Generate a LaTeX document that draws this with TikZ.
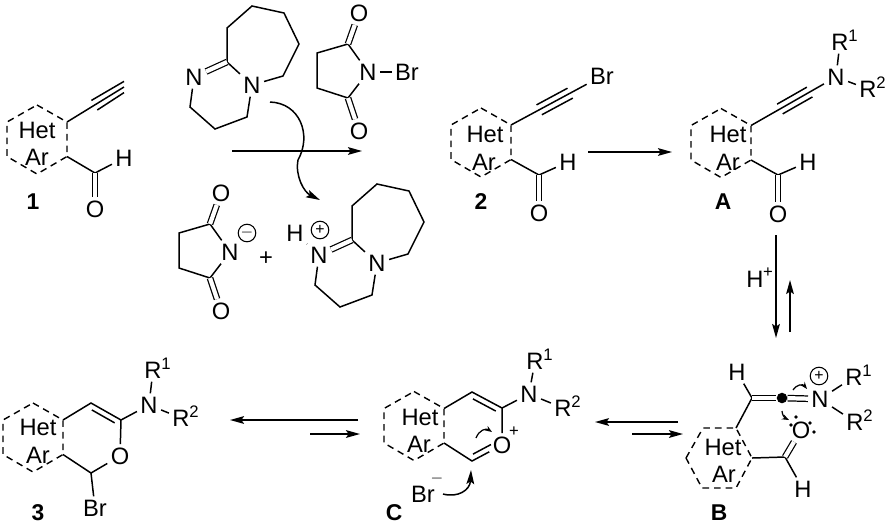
\documentclass[tikz,border=0pt]{standalone}
\usepackage{fontspec}
\setmainfont{Liberation Sans}
\usetikzlibrary{arrows.meta,calc}
\newcommand{\sidebond}[5]{\draw[bond] ($(#1)!#3!(#2)!#5!90:(#2)$) -- ($(#1)!#4!(#2)!#5!90:(#2)$);}

\begin{document}
\begin{tikzpicture}[>={Stealth[length=8pt,width=4.4pt,inset=1.5pt]},x=0.02cm,y=-0.02cm,
  atom/.style={font=\fontsize{13.5}{15}\selectfont,inner sep=1.8pt},
  name node/.style={font=\fontsize{13}{15}\selectfont\bfseries,inner sep=0pt},
  sup node/.style={font=\fontsize{9.5}{10}\selectfont,inner sep=0pt},
  chg node/.style={circle,draw,line width=0.6pt,minimum size=10pt,inner sep=0pt,font=\fontsize{9}{9}\selectfont},
  lp node/.style={circle,fill,inner sep=0pt,minimum size=2.2pt},
  bond/.style={line width=0.85pt},
  dbl/.style={line width=0.7pt,double,double distance=2.4pt},
  dash bond/.style={line width=0.8pt,dash pattern=on 3.8pt off 2.8pt},
  arw/.style={line width=0.85pt,->},
  curly/.style={line width=0.7pt,-{Stealth[length=4pt,width=3pt]}},
  hexring/.pic={
    \coordinate (-a) at (0,-34.5);
    \coordinate (-b) at (30,-17.5);
    \coordinate (-c) at (30,17);
    \coordinate (-d) at (0,34.5);
    \coordinate (-e) at (-30,17);
    \coordinate (-f) at (-30,-17.5);
    \draw[dash bond] (-a) -- (-b) -- (-c) -- (-d) -- (-e) -- (-f) -- cycle;
  },
  dbu/.pic={
    \coordinate (-c1) at (0,0);
    \coordinate (-c2) at (0,-34);
    \coordinate (-c3) at (25,-56);
    \coordinate (-c4) at (57,-49);
    \coordinate (-c5) at (72,-18);
    \coordinate (-c6) at (56,14);
    \coordinate (-c7) at (-37,45);
    \coordinate (-c8) at (-12,67);
    \coordinate (-c9) at (20,55);
    \node[atom] (-n1) at (25,23) {N};
    \node[atom] (-n2) at (-33,15) {N};
    \draw[bond] (-n1) -- (-c1) -- (-c2) -- (-c3) -- (-c4) -- (-c5) -- (-c6) -- (-n1);
    \draw[bond] (-n1) -- (-c9) -- (-c8) -- (-c7) -- (-n2);
    \draw[dbl] (-n2) -- (-c1);
  },
  succ/.pic={
    \node[atom] (-n) at (0,0) {N};
    \coordinate (-c1) at (-20,-28);
    \coordinate (-c2) at (-51,-19);
    \coordinate (-c3) at (-51,16);
    \coordinate (-c4) at (-20,26);
    \node[atom] (-o1) at (-9,-59) {O};
    \node[atom] (-o2) at (-9,59) {O};
    \draw[bond] (-n) -- (-c1) -- (-c2) -- (-c3) -- (-c4) -- (-n);
    \draw[dbl] (-c1) -- (-o1);
    \draw[dbl] (-c4) -- (-o2);
  }]
  \useasboundingbox (0,0) rectangle (888,525);

  % compound 1
  \pic (r1) at (37,139.5) {hexring};
  \node[atom] (het1) at (37,130) {Het};
  \node[atom] (ar1) at (37,157) {Ar};
  \coordinate (y1) at (124,87);
  \coordinate (cho1) at (95,173);
  \node[atom] (h1) at (124,158) {H};
  \node[atom] (o1) at (95,209) {O};
  \node[name node] (lab1) at (33,202) {1};
  \draw[bond] (r1-b) -- (y1);
  \sidebond{r1-b}{y1}{0.48}{1}{3.2pt}
  \sidebond{r1-b}{y1}{0.48}{1}{-3.2pt}
  \draw[bond] (r1-c) -- (cho1) -- (h1);
  \draw[dbl] (cho1) -- (o1);

  % reagents
  \pic (dbu1) at (227,62) {dbu};
  \pic (nbs) at (368,72) {succ};
  \node[atom] (br0) at (407,72) {Br};
  \draw[bond] (nbs-n) -- (br0);
  \pic (succ2) at (230,252) {succ};
  \node[chg node] (minus) at (247,233) {$-$};
  \node[atom] (plus) at (266,259) {+};
  \pic (dbu2) at (352,240) {dbu};
  \node[atom] (h0) at (295,233) {H};
  \node[chg node] (nplus) at (320,230) {+};
  \draw[bond] (h0) -- (dbu2-n2);

  % step 1
  \coordinate (aw1) at (232,151);
  \coordinate (aw2) at (362,151);
  \draw[arw] (aw1) -- (aw2);
  \coordinate (cv1) at (270,102);
  \coordinate (cv2) at (320,200);
  \draw[arw] (cv1) .. controls (300,103) and (312,135) .. (298,160)
    .. controls (295,176) and (304,192) .. (cv2);

  % compound 2
  \pic (r2) at (481,142.5) {hexring};
  \node[atom] (het2) at (485,134) {Het};
  \node[atom] (ar2) at (484,162) {Ar};
  \node[atom] (br2) at (602,76) {Br};
  \coordinate (cho2) at (539,175);
  \node[atom] (h2) at (568,162) {H};
  \node[atom] (o2) at (539,213) {O};
  \node[name node] (lab2) at (481,202) {2};
  \draw[bond] (r2-b) -- (br2);
  \sidebond{r2-b}{br2}{0.31}{0.65}{3.2pt}
  \sidebond{r2-b}{br2}{0.31}{0.65}{-3.2pt}
  \draw[bond] (r2-c) -- (cho2) -- (h2);
  \draw[dbl] (cho2) -- (o2);

  \coordinate (aw3) at (588,152);
  \coordinate (aw4) at (672,152);
  \draw[arw] (aw3) -- (aw4);

  % intermediate A
  \pic (ra) at (721,143) {hexring};
  \node[atom] (heta) at (728,134) {Het};
  \node[atom] (ara) at (728,162) {Ar};
  \node[atom] (na) at (836,77) {N};
  \node[atom] (r1a) at (840,42) {R};
  \node[sup node] (r1as) at (853,36) {1};
  \node[atom] (r2a) at (868,89) {R};
  \node[sup node] (r2as) at (881,83) {2};
  \coordinate (choa) at (778,175);
  \node[atom] (ha) at (808,162) {H};
  \node[atom] (oa) at (778,214) {O};
  \node[name node] (laba) at (723,202) {A};
  \draw[bond] (ra-b) -- (na);
  \sidebond{ra-b}{na}{0.34}{0.69}{3.2pt}
  \sidebond{ra-b}{na}{0.34}{0.69}{-3.2pt}
  \draw[bond] (na) -- (r1a);
  \draw[bond] (na) -- (r2a);
  \draw[bond] (ra-c) -- (choa) -- (ha);
  \draw[dbl] (choa) -- (oa);

  \coordinate (aw5) at (776,235);
  \coordinate (aw6) at (776,338);
  \coordinate (aw7) at (790,332);
  \coordinate (aw8) at (790,280);
  \draw[arw] (aw5) -- (aw6);
  \draw[arw] (aw7) -- (aw8);
  \node[atom] (hp) at (755,279) {H};
  \node[sup node] (hps) at (768,273) {+};

  % intermediate B
  \coordinate (bl) at (686,458);
  \coordinate (bul) at (703,428);
  \coordinate (bur) at (736,428);
  \coordinate (br) at (752,458);
  \coordinate (blr) at (736,488);
  \coordinate (bll) at (702,488);
  \draw[dash bond] (bl) -- (bul) -- (bur) -- (br) -- (blr) -- (bll) -- cycle;
  \node[atom] (hetb) at (723,447) {Het};
  \node[atom] (arb) at (724,474) {Ar};
  \coordinate (cb) at (752,398);
  \node[circle,fill,inner sep=0pt,minimum size=6pt] (dot) at (782,398) {};
  \node[atom] (nb) at (820,399) {N};
  \node[atom] (hb) at (737,372) {H};
  \node[chg node] (nbp) at (819,376) {+};
  \node[atom] (r1b) at (854,377) {R};
  \node[sup node] (r1bs) at (867,371) {1};
  \node[atom] (r2b) at (855,422) {R};
  \node[sup node] (r2bs) at (868,416) {2};
  \node[atom] (ob) at (801,430) {O};
  \coordinate (chob) at (785,457);
  \node[atom] (hb2) at (803,489) {H};
  \node[name node] (labb) at (719,513) {B};
  \draw[bond] (bur) -- (cb) -- (hb);
  \draw[dbl] (cb) -- (dot);
  \draw[dbl] (dot) -- (nb);
  \draw[bond] (nb) -- (r1b);
  \draw[bond] (nb) -- (r2b);
  \draw[bond] (br) -- (chob) -- (hb2);
  \draw[dbl] (chob) -- (ob);
  \node[lp node] (lp1) at (791,425) {};
  \node[lp node] (lp2) at (796,417) {};
  \node[lp node] (lp3) at (810,423) {};
  \node[lp node] (lp4) at (814,432) {};
  \coordinate (cb1) at (793,390);
  \coordinate (cb2) at (807,389);
  \coordinate (cb3) at (782,411);
  \coordinate (cb4) at (789,420);
  \draw[curly] (cb1) .. controls (797,384) and (803,384) .. (cb2);
  \draw[curly] (cb3) .. controls (782,415) and (785,418) .. (cb4);

  \coordinate (aw9) at (678,422);
  \coordinate (aw10) at (595,422);
  \coordinate (aw11) at (632,434);
  \coordinate (aw12) at (683,434);
  \draw[arw] (aw9) -- (aw10);
  \draw[arw] (aw11) -- (aw12);

  % intermediate C
  \pic (rc) at (414,426) {hexring};
  \node[atom] (hetc) at (420,417) {Het};
  \node[atom] (arc) at (419,444) {Ar};
  \coordinate (cc1) at (472,392);
  \coordinate (cc2) at (502,408);
  \coordinate (cc3) at (472,461);
  \node[atom] (oc) at (502,445) {O};
  \node[sup node] (ocp) at (514,432) {+};
  \node[atom] (nc) at (529,394) {N};
  \node[atom] (r1c) at (535,361) {R};
  \node[sup node] (r1cs) at (548,355) {1};
  \node[atom] (r2c) at (563,408) {R};
  \node[sup node] (r2cs) at (576,402) {2};
  \node[atom] (brc) at (423,494) {Br};
  \node[sup node] (brcm) at (437,479) {$-$};
  \node[name node] (labc) at (394,513) {C};
  \draw[bond] (rc-b) -- (cc1) -- (cc2) -- (oc);
  \sidebond{cc1}{cc2}{0.12}{0.88}{-3.2pt}
  \draw[bond] (rc-c) -- (cc3) -- (oc);
  \sidebond{cc3}{oc}{0.12}{0.72}{3.2pt}
  \draw[bond] (cc2) -- (nc);
  \draw[bond] (nc) -- (r1c);
  \draw[bond] (nc) -- (r2c);
  \coordinate (cc4) at (476,438);
  \coordinate (cc5) at (492,432);
  \draw[curly] (cc4) .. controls (479,430) and (486,428) .. (cc5);
  \coordinate (cc6) at (443,494);
  \coordinate (cc7) at (471,470);
  \draw[arw] (cc6) .. controls (458,498) and (470,490) .. (cc7);

  \coordinate (aw13) at (358,420);
  \coordinate (aw14) at (230,420);
  \coordinate (aw15) at (310,434);
  \coordinate (aw16) at (360,434);
  \draw[arw] (aw13) -- (aw14);
  \draw[arw] (aw15) -- (aw16);

  % product 3
  \pic (r3) at (33,437.5) {hexring};
  \node[atom] (het3) at (38,427) {Het};
  \node[atom] (ar3) at (38,455) {Ar};
  \coordinate (c31) at (91,403);
  \coordinate (c32) at (121,420);
  \coordinate (c33) at (91,473);
  \node[atom] (o3) at (120,456) {O};
  \node[atom] (br3) at (95,508) {Br};
  \node[atom] (n3) at (149,405) {N};
  \node[atom] (r13) at (153,370) {R};
  \node[sup node] (r13s) at (166,364) {1};
  \node[atom] (r23) at (181,418) {R};
  \node[sup node] (r23s) at (194,412) {2};
  \node[name node] (lab3) at (38,513) {3};
  \draw[bond] (r3-b) -- (c31) -- (c32) -- (o3);
  \sidebond{c31}{c32}{0.12}{0.88}{-3.2pt}
  \draw[bond] (r3-c) -- (c33) -- (o3);
  \draw[bond] (c33) -- (br3);
  \draw[bond] (c32) -- (n3);
  \draw[bond] (n3) -- (r13);
  \draw[bond] (n3) -- (r23);
\end{tikzpicture}
\end{document}
